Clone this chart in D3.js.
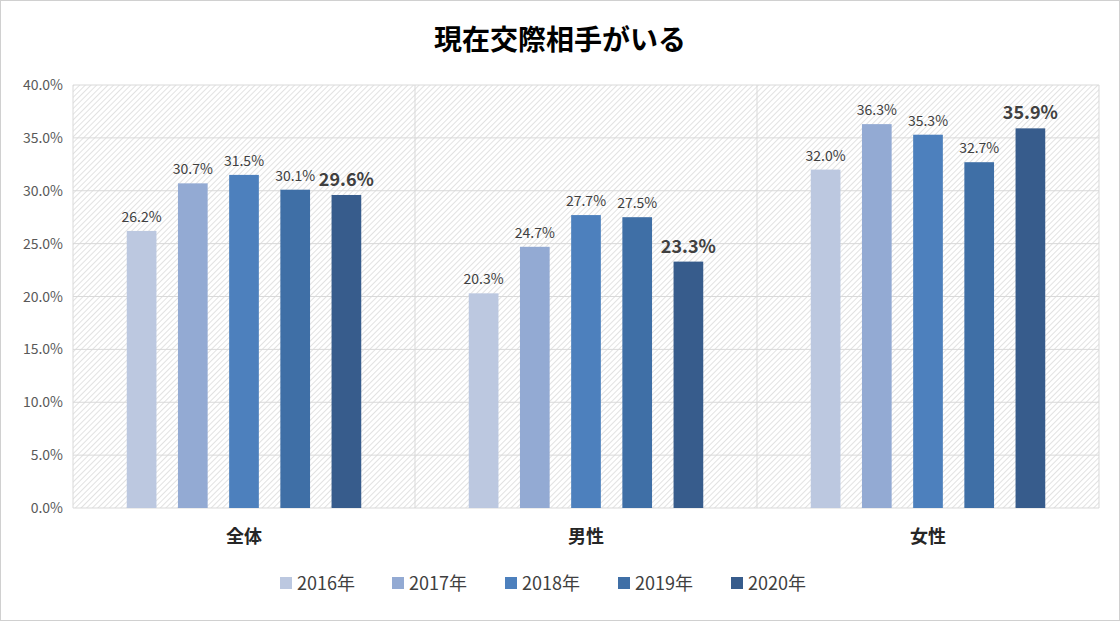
<!DOCTYPE html><html><head><meta charset="utf-8"><script src="https://cdn.jsdelivr.net/npm/d3@7"></script>
<style>body{margin:0;background:#fff}</style></head><body><svg id="c" width="1120" height="621"></svg>
<script>
const categories=["全体","男性","女性"];
const years=["2016年","2017年","2018年","2019年","2020年"];
const colors=["#bcc8e0","#93aad3","#4d80bd","#3f6fa6","#375c8c"];
const v2016=[26.2,20.3,32.0];
const v2017=[30.7,24.7,36.3];
const v2018=[31.5,27.7,35.3];
const v2019=[30.1,27.5,32.7];
const v2020=[29.6,23.3,35.9];
const series=[v2016,v2017,v2018,v2019,v2020];
const yTicks=[0,5,10,15,20,25,30,35,40];
const svg=d3.select("#c");
const F="'Noto Sans CJK JP','Noto Sans',sans-serif";
svg.append("rect").attr("x",0.5).attr("y",0.5).attr("width",1119).attr("height",620).attr("fill","#fff").attr("stroke","#d0d0d0");
const defs=svg.append("defs");
const p=defs.append("pattern").attr("id","h").attr("width",4).attr("height",4).attr("patternUnits","userSpaceOnUse").attr("patternTransform","rotate(45)");
p.append("rect").attr("width",4).attr("height",4).attr("fill","#fff");
p.append("line").attr("x1",0).attr("y1",0).attr("x2",0).attr("y2",4).attr("stroke","#d6d6d6").attr("stroke-width",1.4);
const m={l:73,r:1099,t:85,b:508};
const x=d3.scaleBand().domain(categories).range([m.l,m.r]);
const xi=d3.scaleBand().domain(years).range([0,x.bandwidth()]).paddingInner(0.42).paddingOuter(1.05);
const y=d3.scaleLinear().domain([0,40]).range([m.b,m.t]);
svg.append("rect").attr("x",m.l).attr("y",m.t).attr("width",m.r-m.l).attr("height",m.b-m.t).attr("fill","url(#h)");
svg.append("g").selectAll("line").data(yTicks).join("line").attr("x1",m.l).attr("x2",m.r).attr("y1",d=>y(d)).attr("y2",d=>y(d)).attr("stroke","#d9d9d9");
svg.append("g").selectAll("line").data(d3.range(categories.length+1)).join("line").attr("x1",i=>m.l+i*x.bandwidth()).attr("x2",i=>m.l+i*x.bandwidth()).attr("y1",m.t).attr("y2",m.b).attr("stroke","#d9d9d9");
svg.append("g").selectAll("text").data(yTicks).join("text").attr("x",m.l-10).attr("y",d=>y(d)+5).attr("text-anchor","end").attr("font-family",F).attr("font-size",14).attr("fill","#595959").text(d=>d.toFixed(1)+"%");
series.forEach((s,si)=>{
 const g=svg.append("g");
 g.selectAll("rect").data(s).join("rect").attr("x",(d,i)=>x(categories[i])+xi(years[si])).attr("width",xi.bandwidth()).attr("y",d=>y(d)).attr("height",d=>m.b-y(d)).attr("fill",colors[si]);
 g.selectAll("text").data(s).join("text").attr("x",(d,i)=>x(categories[i])+xi(years[si])+xi.bandwidth()/2).attr("y",d=>y(d)-9)
  .attr("text-anchor","middle").attr("font-family",F).attr("font-size",si==4?18:14).attr("font-weight",si==4?"bold":"normal").attr("fill","#404040").text(d=>d.toFixed(1)+"%");
});
svg.append("g").selectAll("text").data(categories).join("text").attr("x",d=>x(d)+x.bandwidth()/2).attr("y",543).attr("text-anchor","middle").attr("font-family",F).attr("font-size",18).attr("font-weight","bold").attr("fill","#262626").text(d=>d);
svg.append("text").attr("x",560).attr("y",50).attr("text-anchor","middle").attr("font-family",F).attr("font-size",28).attr("font-weight","bold").attr("fill","#000").text("現在交際相手がいる");
const lg=svg.append("g");
const lx=[280,392,505,618,731];
years.forEach((yr,i)=>{
 lg.append("rect").attr("x",lx[i]).attr("y",577).attr("width",12).attr("height",12).attr("fill",colors[i]);
 lg.append("text").attr("x",lx[i]+17).attr("y",590).attr("font-family",F).attr("font-size",18).attr("fill","#404040").text(yr);
});
</script></body></html>
